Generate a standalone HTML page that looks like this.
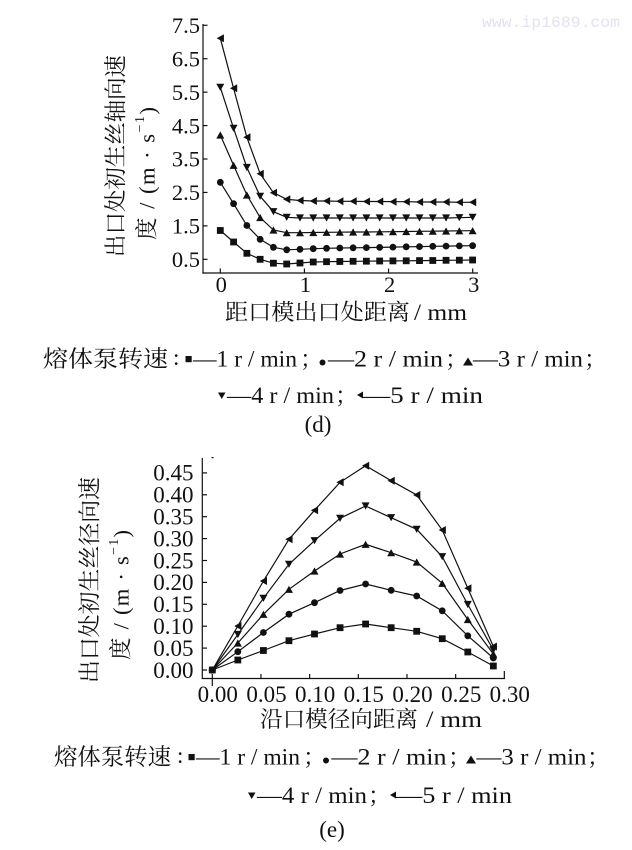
<!DOCTYPE html>
<html>
<head>
<meta charset="utf-8">
<style>
html,body{margin:0;padding:0;background:#fff;}
svg{display:block;}
text{font-family:"Liberation Serif","Noto Serif CJK SC","Noto Sans CJK SC",serif;fill:#111;}
.cjk{font-family:"Liberation Serif","Noto Serif CJK SC","Noto Sans CJK SC",serif;}
</style>
</head>
<body>
<svg width="632" height="850" viewBox="0 0 632 850" xmlns="http://www.w3.org/2000/svg">
<defs>
<marker id="sq" markerUnits="userSpaceOnUse" markerWidth="10" markerHeight="10" refX="5" refY="5" viewBox="0 0 10 10"><rect x="1.6" y="1.6" width="6.8" height="6.8" fill="#111"/></marker>
<marker id="ci" markerUnits="userSpaceOnUse" markerWidth="10" markerHeight="10" refX="5" refY="5" viewBox="0 0 10 10"><circle cx="5" cy="5" r="3.4" fill="#111"/></marker>
<marker id="up" markerUnits="userSpaceOnUse" markerWidth="10" markerHeight="10" refX="5" refY="5" viewBox="0 0 10 10"><polygon points="1,8.6 9,8.6 5,1.4" fill="#111"/></marker>
<marker id="dn" markerUnits="userSpaceOnUse" markerWidth="10" markerHeight="10" refX="5" refY="5" viewBox="0 0 10 10"><polygon points="1,1.4 9,1.4 5,8.6" fill="#111"/></marker>
<marker id="lt" markerUnits="userSpaceOnUse" markerWidth="10" markerHeight="10" refX="5" refY="5" viewBox="0 0 10 10"><polygon points="1.4,5 8.6,1 8.6,9" fill="#111"/></marker>
</defs>

<!-- watermark -->
<text x="482" y="27" font-size="16" textLength="138" lengthAdjust="spacingAndGlyphs" style="font-family:'Liberation Mono',monospace;fill:#e2e2f0">www.ip1689.com</text>

<!-- ================= TOP CHART (d) ================= -->
<g stroke="#111" stroke-width="1.2" fill="none">
  <line x1="203" y1="24" x2="203" y2="273.6"/>
  <line x1="202.4" y1="273" x2="478" y2="273"/>
  <line x1="203" y1="259.3" x2="207.5" y2="259.3"/>
  <line x1="203" y1="225.87" x2="207.5" y2="225.87"/>
  <line x1="203" y1="192.44" x2="207.5" y2="192.44"/>
  <line x1="203" y1="159.01" x2="207.5" y2="159.01"/>
  <line x1="203" y1="125.58" x2="207.5" y2="125.58"/>
  <line x1="203" y1="92.15" x2="207.5" y2="92.15"/>
  <line x1="203" y1="58.72" x2="207.5" y2="58.72"/>
  <line x1="203" y1="25.29" x2="207.5" y2="25.29"/>
  <line x1="220.3" y1="273" x2="220.3" y2="268.5"/>
  <line x1="304.43" y1="273" x2="304.43" y2="268.5"/>
  <line x1="388.56" y1="273" x2="388.56" y2="268.5"/>
  <line x1="472.69" y1="273" x2="472.69" y2="268.5"/>
</g>
<g font-size="22.5" text-anchor="end">
  <text x="200" y="267">0.5</text>
  <text x="200" y="233.6">1.5</text>
  <text x="200" y="200.1">2.5</text>
  <text x="200" y="166.7">3.5</text>
  <text x="200" y="133.3">4.5</text>
  <text x="200" y="99.8">5.5</text>
  <text x="200" y="66.4">6.5</text>
  <text x="200" y="33">7.5</text>
</g>
<g font-size="22.5" text-anchor="middle">
  <text x="221.3" y="292">0</text>
  <text x="305.4" y="292">1</text>
  <text x="389.6" y="292">2</text>
  <text x="473.7" y="292">3</text>
</g>

<g stroke="#111" stroke-width="1.2" fill="none">
<polyline marker-start="url(#sq)" marker-mid="url(#sq)" marker-end="url(#sq)" points="220.3,230.5 233.58,242 246.86,253.3 260.14,259.3 273.42,263.2 286.7,264 299.98,263 313.26,262 326.54,261.7 339.82,261.5 353.1,261.3 366.38,261.2 379.66,261 392.94,260.9 406.22,260.8 419.5,260.6 432.78,260.5 446.06,260.3 459.34,260.2 472.62,260"/>
<polyline marker-start="url(#ci)" marker-mid="url(#ci)" marker-end="url(#ci)" points="220.3,182.3 233.58,203.7 246.86,225.5 260.14,239.3 273.42,247.3 286.7,249.8 299.98,249.3 313.26,248.7 326.54,248.3 339.82,248 353.1,247.8 366.38,247.6 379.66,247.4 392.94,247.1 406.22,246.8 419.5,246.6 432.78,246.3 446.06,246.1 459.34,245.9 472.62,245.7"/>
<polyline marker-start="url(#up)" marker-mid="url(#up)" marker-end="url(#up)" points="220.3,135 233.58,165.3 246.86,195 260.14,217.5 273.42,230 286.7,232.7 299.98,232.7 313.26,232.5 326.54,232.3 339.82,232.2 353.1,232 366.38,232 379.66,231.8 392.94,231.7 406.22,231.5 419.5,231.3 432.78,231.2 446.06,231 459.34,230.8 472.62,230.7"/>
<polyline marker-start="url(#dn)" marker-mid="url(#dn)" marker-end="url(#dn)" points="220.3,87.3 233.58,128.3 246.86,167.5 260.14,196.3 273.42,211.7 286.7,217.3 299.98,218 313.26,218 326.54,218 339.82,218 353.1,218 366.38,218 379.66,218 392.94,218 406.22,218 419.5,218 432.78,218 446.06,218 459.34,217.7 472.62,217.3"/>
<polyline marker-start="url(#lt)" marker-mid="url(#lt)" marker-end="url(#lt)" points="220.3,38.3 233.58,88.3 246.86,137.3 260.14,173.7 273.42,192.7 286.7,199.3 299.98,200.5 313.26,201 326.54,201 339.82,201.3 353.1,201.3 366.38,201.5 379.66,201.5 392.94,201.7 406.22,201.7 419.5,202 432.78,202 446.06,202 459.34,202.3 472.62,202.3"/>
</g>

<!-- top y label -->
<text class="cjk" font-size="22.5" text-anchor="middle" dominant-baseline="central" transform="translate(116,156) rotate(-90)" textLength="202" lengthAdjust="spacingAndGlyphs">出口处初生丝轴向速</text>
<text class="cjk" font-size="22.5" text-anchor="middle" dominant-baseline="central" transform="translate(147,173.5) rotate(-90)" textLength="133" lengthAdjust="spacing">度 / (m · s<tspan dy="-7" font-size="14">−1</tspan><tspan dy="7">)</tspan></text>

<!-- top x label -->
<text class="cjk" x="225" y="320" font-size="22.5" textLength="185" lengthAdjust="spacingAndGlyphs">距口模出口处距离</text>
<text x="414" y="320" font-size="23" textLength="53" lengthAdjust="spacingAndGlyphs">/ mm</text>

<!-- top legend line 1 -->
<g font-size="23">
  <text class="cjk" x="43" y="366.5" textLength="125" lengthAdjust="spacingAndGlyphs">熔体泵转速</text>
  <text x="173" y="365">:</text>
  <rect x="185.5" y="356" width="6.2" height="6.2" fill="#111"/>
  <text x="193" y="366.5" textLength="104" lengthAdjust="spacingAndGlyphs">—1 r / min</text>
  <text class="cjk" x="300" y="366.5">；</text>
  <circle cx="322.5" cy="362.5" r="3" fill="#111"/>
  <text x="328" y="366.5" textLength="115" lengthAdjust="spacingAndGlyphs">—2 r / min</text>
  <text class="cjk" x="445" y="366.5">；</text>
  <polygon points="463,365.5 473,365.5 468,357.5" fill="#111"/>
  <text x="473" y="366.5" textLength="110" lengthAdjust="spacingAndGlyphs">—3 r / min</text>
  <text class="cjk" x="584" y="366.5">；</text>
</g>
<!-- top legend line 2 -->
<g font-size="23">
  <polygon points="218,392.5 225.5,392.5 221.75,399" fill="#111"/>
  <text x="227" y="403" textLength="107" lengthAdjust="spacingAndGlyphs">—4 r / min</text>
  <text class="cjk" x="335" y="403">；</text>
  <polygon points="357,395 363,391.5 363,398.5" fill="#111"/>
  <text x="363" y="403" textLength="120" lengthAdjust="spacingAndGlyphs">—5 r /  min</text>
</g>
<text x="318" y="432" font-size="23" text-anchor="middle">(d)</text>

<!-- ================= BOTTOM CHART (e) ================= -->
<g stroke="#111" stroke-width="1.2" fill="none">
  <line x1="202.3" y1="458" x2="202.3" y2="679"/>
  <line x1="201.7" y1="678.5" x2="505" y2="678.5"/>
  <line x1="211.5" y1="457.6" x2="213.5" y2="457.6"/>
  <line x1="202.3" y1="670" x2="207" y2="670"/>
  <line x1="202.3" y1="648.1" x2="207" y2="648.1"/>
  <line x1="202.3" y1="626.2" x2="207" y2="626.2"/>
  <line x1="202.3" y1="604.3" x2="207" y2="604.3"/>
  <line x1="202.3" y1="582.4" x2="207" y2="582.4"/>
  <line x1="202.3" y1="560.5" x2="207" y2="560.5"/>
  <line x1="202.3" y1="538.6" x2="207" y2="538.6"/>
  <line x1="202.3" y1="516.7" x2="207" y2="516.7"/>
  <line x1="202.3" y1="494.8" x2="207" y2="494.8"/>
  <line x1="202.3" y1="472.9" x2="207" y2="472.9"/>
  <line x1="212.3" y1="686" x2="212.3" y2="674"/>
  <line x1="260.97" y1="678.5" x2="260.97" y2="674"/>
  <line x1="309.64" y1="678.5" x2="309.64" y2="674"/>
  <line x1="358.31" y1="678.5" x2="358.31" y2="674"/>
  <line x1="406.98" y1="678.5" x2="406.98" y2="674"/>
  <line x1="455.65" y1="678.5" x2="455.65" y2="674"/>
  <line x1="504.32" y1="678.5" x2="504.32" y2="671"/>
</g>
<g font-size="23" text-anchor="end">
  <text x="193.5" y="677.8">0.00</text>
  <text x="193.5" y="655.9">0.05</text>
  <text x="193.5" y="634">0.10</text>
  <text x="193.5" y="612.1">0.15</text>
  <text x="193.5" y="590.2">0.20</text>
  <text x="193.5" y="568.3">0.25</text>
  <text x="193.5" y="546.4">0.30</text>
  <text x="193.5" y="524.5">0.35</text>
  <text x="193.5" y="502.6">0.40</text>
  <text x="193.5" y="480.7">0.45</text>
</g>
<g font-size="23" text-anchor="middle">
  <text x="217.8" y="701.8">0.00</text>
  <text x="266.5" y="701.8">0.05</text>
  <text x="315.1" y="701.8">0.10</text>
  <text x="363.8" y="701.8">0.15</text>
  <text x="412.5" y="701.8">0.20</text>
  <text x="461.2" y="701.8">0.25</text>
  <text x="509.8" y="701.8">0.30</text>
</g>

<g stroke="#111" stroke-width="1.2" fill="none">
<polyline marker-start="url(#sq)" marker-mid="url(#sq)" marker-end="url(#sq)" points="212.3,670 237.85,660 263.4,650.5 288.95,640.7 314.5,634 340.05,627.7 365.6,624 391.15,627.7 416.7,631.3 442.25,638.7 467.8,652 493.35,666"/>
<polyline marker-mid="url(#ci)" marker-end="url(#ci)" points="212.3,670 237.85,651.7 263.4,632.5 288.95,614.2 314.5,602.7 340.05,590.5 365.6,584 391.15,590.3 416.7,596 442.25,610.8 467.8,635.8 493.35,658"/>
<polyline marker-mid="url(#up)" marker-end="url(#up)" points="212.3,670 237.85,643 263.4,614.3 288.95,589.3 314.5,571 340.05,554 365.6,544.3 391.15,552.7 416.7,562 442.25,583.3 467.8,619.5 493.35,654"/>
<polyline marker-mid="url(#dn)" marker-end="url(#dn)" points="212.3,670 237.85,634.5 263.4,598.3 288.95,564.3 314.5,540.7 340.05,518.3 365.6,506 391.15,517.7 416.7,529.3 442.25,556.7 467.8,604.5 493.35,650"/>
<polyline marker-mid="url(#lt)" marker-end="url(#lt)" points="212.3,670 237.85,626 263.4,581 288.95,539.3 314.5,510.3 340.05,482.3 365.6,465.7 391.15,480.7 416.7,495 442.25,530 467.8,588.3 493.35,646.5"/>
</g>
<circle cx="212.3" cy="670" r="3.6" fill="#111"/>

<!-- bottom y label -->
<text class="cjk" font-size="22.5" text-anchor="middle" dominant-baseline="central" transform="translate(90,580) rotate(-90)" textLength="206" lengthAdjust="spacingAndGlyphs">出口处初生丝径向速</text>
<text class="cjk" font-size="22.5" text-anchor="middle" dominant-baseline="central" transform="translate(121,595) rotate(-90)" textLength="130" lengthAdjust="spacing">度 / (m · s<tspan dy="-7" font-size="14">−1</tspan><tspan dy="7">)</tspan></text>

<!-- bottom x label -->
<text class="cjk" x="260" y="727" font-size="22.5" textLength="158" lengthAdjust="spacingAndGlyphs">沿口模径向距离</text>
<text x="426" y="727" font-size="23" textLength="56" lengthAdjust="spacingAndGlyphs">/ mm</text>

<!-- bottom legend line 1 -->
<g font-size="23">
  <text class="cjk" x="54" y="764.5" textLength="117" lengthAdjust="spacingAndGlyphs">熔体泵转速</text>
  <text x="177" y="763">:</text>
  <rect x="188.5" y="754" width="6.2" height="6.2" fill="#111"/>
  <text x="196" y="764.5" textLength="104" lengthAdjust="spacingAndGlyphs">—1 r / min</text>
  <text class="cjk" x="303" y="764.5">；</text>
  <circle cx="326" cy="760.5" r="3" fill="#111"/>
  <text x="331.5" y="764.5" textLength="115" lengthAdjust="spacingAndGlyphs">—2 r / min</text>
  <text class="cjk" x="448" y="764.5">；</text>
  <polygon points="466,763.5 476,763.5 471,755.5" fill="#111"/>
  <text x="476.5" y="764.5" textLength="110" lengthAdjust="spacingAndGlyphs">—3 r / min</text>
  <text class="cjk" x="587" y="764.5">；</text>
</g>
<!-- bottom legend line 2 -->
<g font-size="23">
  <polygon points="248,792.5 255.5,792.5 251.75,799" fill="#111"/>
  <text x="257" y="803" textLength="110" lengthAdjust="spacingAndGlyphs">—4 r / min</text>
  <text class="cjk" x="368" y="803">；</text>
  <polygon points="390,795 396,791.5 396,798.5" fill="#111"/>
  <text x="396" y="803" textLength="116" lengthAdjust="spacingAndGlyphs">—5 r /  min</text>
</g>
<text x="332" y="837" font-size="23" text-anchor="middle">(e)</text>
</svg>
</body>
</html>
